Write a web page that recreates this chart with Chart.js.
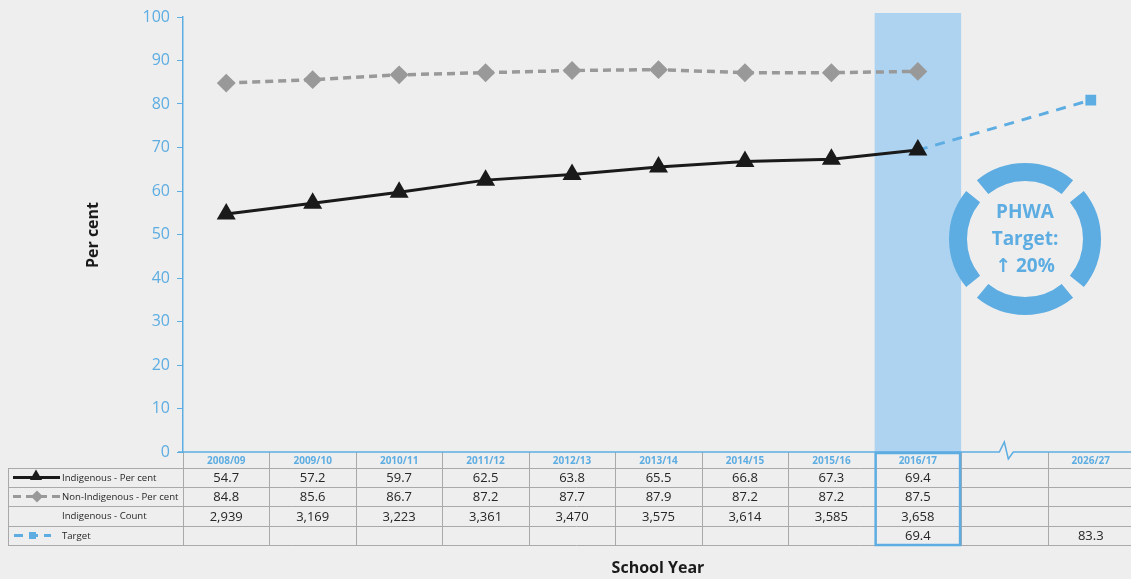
<!DOCTYPE html>
<html>
<head>
<meta charset="utf-8">
<script src="https://cdn.jsdelivr.net/npm/chart.js@4/dist/chart.umd.min.js"></script>
<style>
  html, body { margin: 0; padding: 0; background: #eeeeee; overflow: hidden; }
  #wrap { width: 1131px; height: 579px; position: relative; overflow: hidden; }
</style>
</head>
<body>
<div id="wrap"><canvas id="chart" width="1145" height="579"></canvas></div>
<script>
// school years (empty slot = axis break)
const years = ['2008/09', '2009/10', '2010/11', '2011/12', '2012/13', '2013/14', '2014/15', '2015/16', '2016/17', '', '2026/27'];
const indigenous = [54.7, 57.2, 59.7, 62.5, 63.8, 65.5, 66.8, 67.3, 69.4, null, null];
const nonIndigenous = [84.8, 85.6, 86.7, 87.2, 87.7, 87.9, 87.2, 87.2, 87.5, null, null];
const indigenousCount = ['2,939', '3,169', '3,223', '3,361', '3,470', '3,575', '3,614', '3,585', '3,658', '', ''];
// target marker as plotted, and as written in the table
const targetPlot = [null, null, null, null, null, null, null, null, 69.4, null, 80.9];
const targetTable = ['', '', '', '', '', '', '', '', '69.4', '', '83.3'];
const yTicks = [0, 10, 20, 30, 40, 50, 60, 70, 80, 90, 100];
const highlightYear = '2016/17';

const BLUE = '#5dade2';
const BAND = '#aed3f0';
const GRID = '#a9a9a9';
const FONT = "'Open Sans', 'DejaVu Sans', sans-serif";

const rowsY = [452, 468, 487, 506, 526, 545];

const fmt = v => (v == null ? '' : v.toFixed(1));

function drawTri(ctx, x, y, r, col) {
  ctx.fillStyle = col;
  ctx.beginPath();
  ctx.moveTo(x, y - r);
  ctx.lineTo(x + r * 0.87, y + r * 0.5);
  ctx.lineTo(x - r * 0.87, y + r * 0.5);
  ctx.closePath();
  ctx.fill();
}

const extras = {
  id: 'extras',
  beforeDatasetsDraw(chart) {
    const ctx = chart.ctx;
    const x = chart.scales.x;
    const w = x.getPixelForValue(1) - x.getPixelForValue(0);
    const hx = x.getPixelForValue(years.indexOf(highlightYear));
    ctx.save();
    ctx.fillStyle = BAND;
    ctx.fillRect(hx - w / 2, 13, w, rowsY[0] - 13);
    ctx.restore();
  },
  afterDraw(chart) {
    const ctx = chart.ctx;
    const x = chart.scales.x;
    const w = x.getPixelForValue(1) - x.getPixelForValue(0);
    const left = x.getPixelForValue(0) - w / 2;
    const right = chart.width;
    ctx.save();

    // table grid
    ctx.strokeStyle = GRID;
    ctx.lineWidth = 1;
    for (let r = 1; r < rowsY.length; r++) {
      ctx.beginPath();
      ctx.moveTo(8, rowsY[r] + 0.5);
      ctx.lineTo(right, rowsY[r] + 0.5);
      ctx.stroke();
    }
    ctx.beginPath();
    ctx.moveTo(8.5, rowsY[1]);
    ctx.lineTo(8.5, rowsY[5]);
    ctx.stroke();
    for (let i = 0; i < years.length; i++) {
      const bx = Math.round(left + i * w) + 0.5;
      ctx.beginPath();
      ctx.moveTo(bx, rowsY[0]);
      ctx.lineTo(bx, rowsY[5]);
      ctx.stroke();
    }

    // x axis line with break
    ctx.strokeStyle = BLUE;
    ctx.lineWidth = 1.5;
    const bk = left + 9.5 * w;
    ctx.beginPath();
    ctx.moveTo(178, rowsY[0]);
    ctx.lineTo(bk - 5, rowsY[0]);
    ctx.lineTo(bk, 442);
    ctx.lineTo(bk + 4, 459);
    ctx.lineTo(bk + 9, rowsY[0]);
    ctx.lineTo(right, rowsY[0]);
    ctx.stroke();

    // header labels
    ctx.textAlign = 'center';
    ctx.textBaseline = 'middle';
    ctx.fillStyle = BLUE;
    ctx.font = 'bold 10px ' + FONT;
    years.forEach((y, i) => ctx.fillText(y, x.getPixelForValue(i), 461));

    // values
    ctx.fillStyle = '#262626';
    ctx.font = '13px ' + FONT;
    const rows = [indigenous.map(fmt), nonIndigenous.map(fmt), indigenousCount, targetTable];
    rows.forEach((row, r) => {
      const cy = (rowsY[r + 1] + rowsY[r + 2]) / 2 + 1;
      row.forEach((t, i) => { if (t) ctx.fillText(t, x.getPixelForValue(i), cy); });
    });

    // highlighted column outline
    const hx = x.getPixelForValue(years.indexOf(highlightYear));
    ctx.strokeStyle = BLUE;
    ctx.lineWidth = 2.5;
    ctx.strokeRect(hx - w / 2 + 1, rowsY[0] + 1, w - 2, rowsY[5] - rowsY[0] - 1);

    // row labels and legend keys
    ctx.textAlign = 'left';
    ctx.font = '9.6px ' + FONT;
    ctx.fillStyle = '#262626';
    const names = ['Indigenous - Per cent', 'Non-Indigenous - Per cent', 'Indigenous - Count', 'Target'];
    names.forEach((n, r) => ctx.fillText(n, 62, (rowsY[r + 1] + rowsY[r + 2]) / 2 + 0.5));

    let ly = (rowsY[1] + rowsY[2]) / 2;
    ctx.strokeStyle = '#1a1a1a';
    ctx.lineWidth = 3;
    ctx.setLineDash([]);
    ctx.beginPath(); ctx.moveTo(13, ly); ctx.lineTo(60, ly); ctx.stroke();
    drawTri(ctx, 36, ly - 1, 7, '#1a1a1a');

    ly = (rowsY[2] + rowsY[3]) / 2;
    ctx.strokeStyle = '#999999';
    ctx.setLineDash([8, 5]);
    ctx.beginPath(); ctx.moveTo(13, ly); ctx.lineTo(60, ly); ctx.stroke();
    ctx.setLineDash([]);
    ctx.fillStyle = '#999999';
    ctx.beginPath();
    ctx.moveTo(37, ly - 6); ctx.lineTo(43, ly); ctx.lineTo(37, ly + 6); ctx.lineTo(31, ly);
    ctx.closePath(); ctx.fill();

    ly = (rowsY[4] + rowsY[5]) / 2;
    ctx.strokeStyle = BLUE;
    ctx.setLineDash([9, 6]);
    ctx.beginPath(); ctx.moveTo(14, ly); ctx.lineTo(51, ly); ctx.stroke();
    ctx.setLineDash([]);
    ctx.fillStyle = BLUE;
    ctx.fillRect(29, ly - 3.5, 7, 7);

    // axis titles
    ctx.fillStyle = '#1a1a1a';
    ctx.font = 'bold 16px ' + FONT;
    ctx.textAlign = 'center';
    ctx.fillText('School Year', 658, 568);
    ctx.translate(93, 235);
    ctx.rotate(-Math.PI / 2);
    ctx.fillText('Per cent', 0, 0);
    ctx.setTransform(1, 0, 0, 1, 0, 0);

    // PHWA target badge
    const cx = 1025, cy = 239;
    ctx.strokeStyle = BLUE;
    ctx.lineWidth = 18;
    const gap = 0.2;
    for (let k = 0; k < 4; k++) {
      const a = k * Math.PI / 2;
      ctx.beginPath();
      ctx.arc(cx, cy, 67, a - Math.PI / 4 + gap / 2, a + Math.PI / 4 - gap / 2);
      ctx.stroke();
    }
    ctx.fillStyle = BLUE;
    ctx.font = 'bold 19px ' + FONT;
    ctx.fillText('PHWA', cx, 213);
    ctx.fillText('Target:', cx, 240);
    ctx.fillText('\u2191 20%', cx, 267);
    ctx.restore();
  }
};

new Chart(document.getElementById('chart'), {
  type: 'line',
  data: {
    labels: years,
    datasets: [
      {
        label: 'Indigenous - Per cent',
        data: indigenous,
        borderColor: '#1a1a1a',
        backgroundColor: '#1a1a1a',
        borderWidth: 3,
        pointStyle: 'triangle',
        pointRadius: 8,
        tension: 0,
        order: 1
      },
      {
        label: 'Non-Indigenous - Per cent',
        data: nonIndigenous,
        borderColor: '#999999',
        backgroundColor: '#999999',
        borderWidth: 3.5,
        borderDash: [8, 5],
        pointStyle: 'rectRot',
        pointRadius: 7,
        tension: 0,
        order: 2
      },
      {
        label: 'Target',
        data: targetPlot,
        borderColor: BLUE,
        backgroundColor: BLUE,
        borderWidth: 3,
        borderDash: [10, 8],
        pointStyle: 'rect',
        pointRadius: [0, 0, 0, 0, 0, 0, 0, 0, 0, 0, 5.5],
        spanGaps: true,
        tension: 0,
        order: 3
      }
    ]
  },
  options: {
    responsive: false,
    animation: false,
    layout: { padding: { top: 17, bottom: 127, left: 0, right: 0 } },
    plugins: { legend: { display: false }, tooltip: { enabled: false } },
    scales: {
      x: { display: false, offset: true },
      y: {
        min: 0,
        max: 100,
        afterFit: s => { s.width = 183; },
        afterBuildTicks: s => { s.ticks = yTicks.map(v => ({ value: v })); },
        grid: { drawOnChartArea: false, drawTicks: true, tickLength: 6, color: BLUE },
        border: { color: BLUE, width: 1.5 },
        ticks: { color: BLUE, font: { size: 16, family: FONT }, padding: 7 }
      }
    }
  },
  plugins: [extras]
});
</script>
</body>
</html>
